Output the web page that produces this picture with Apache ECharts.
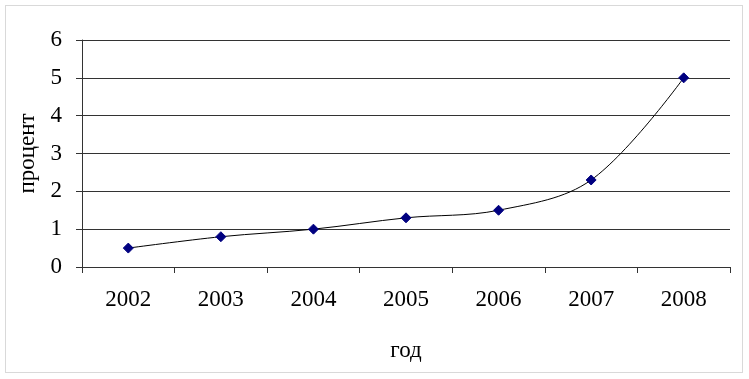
<!DOCTYPE html>
<html><head><meta charset="utf-8">
<script src="https://cdn.jsdelivr.net/npm/echarts@6/dist/echarts.min.js"></script>
<style>html,body{margin:0;padding:0;background:#fff}#c{width:749px;height:379px}
#frame{position:absolute;left:5px;top:5px;width:736px;height:366px;border:1px solid #d9d9d9;pointer-events:none}</style>
</head><body><div id="c"></div><div id="frame"></div>
<script>
const years = ['2002','2003','2004','2005','2006','2007','2008'];
const values = [0.5, 0.8, 1.0, 1.3, 1.5, 2.3, 5.0];
const yTicks = [0,1,2,3,4,5,6];
const xName = 'год';
const yName = 'процент';
const font = '"Liberation Serif","Times New Roman",serif';
const chart = echarts.init(document.getElementById('c'));
chart.setOption({
  animation:false,
  grid:{left:82,right:19,top:40,bottom:112,containLabel:false},
  xAxis:{type:'category',data:years,boundaryGap:true,
    name:xName,nameLocation:'middle',nameGap:72,
    nameTextStyle:{fontFamily:font,fontSize:23,color:'#000'},
    axisLine:{lineStyle:{color:'#333',width:1}},
    axisTick:{show:true,alignWithLabel:false,length:6,lineStyle:{color:'#333'}},
    axisLabel:{fontFamily:font,fontSize:23,color:'#000',margin:21}},
  yAxis:{type:'value',min:0,max:6,interval:1,
    name:yName,nameLocation:'middle',nameGap:40,nameRotate:90,
    nameTextStyle:{fontFamily:font,fontSize:23,color:'#000'},
    axisLine:{show:true,lineStyle:{color:'#333',width:1}},
    axisTick:{show:true,length:6,lineStyle:{color:'#333'}},
    axisLabel:{fontFamily:font,fontSize:23,color:'#000',margin:20,
      formatter:v=>yTicks.includes(v)?String(v):''},
    splitLine:{show:true,lineStyle:{color:'#333',width:1}}},
  series:[{type:'line',data:values,smooth:0.35,
    lineStyle:{color:'#000',width:1},
    symbol:'diamond',symbolSize:10,
    itemStyle:{color:'#000080',borderColor:'#000080'}}]
});
</script></body></html>
